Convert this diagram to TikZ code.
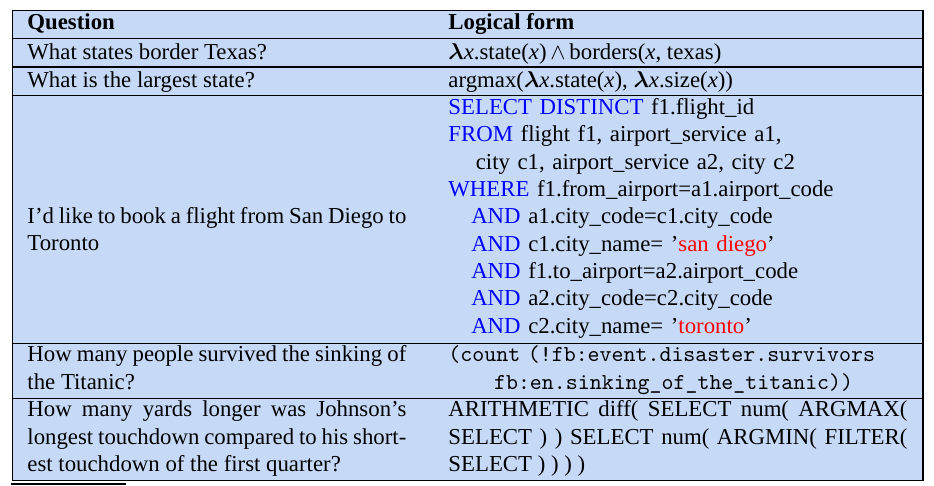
\documentclass[tikz,border=0pt]{standalone}
\usepackage{amsmath}
\usepackage{fontspec}
\setmainfont{Liberation Serif}
\definecolor{cellblue}{RGB}{198,218,248}
\definecolor{kwblue}{RGB}{0,0,255}
\definecolor{strred}{RGB}{255,0,0}
\newcommand{\kw}[1]{\textcolor{kwblue}{#1}}
\newcommand{\strv}[1]{\textcolor{strred}{#1}}
\newcommand{\lam}{$\boldsymbol{\lambda}$}
\begin{document}
\begin{tikzpicture}[x=0.4386pt,y=-0.4386pt,
  cell/.style={anchor=base west,inner sep=0pt,font=\fontsize{10}{12}\selectfont},
  qcell/.style={cell,text width=166.2pt,align=justify},
  lfcell/.style={cell,text width=201.3pt,align=left}]
\useasboundingbox (0,0) rectangle (934,486);
\draw[line width=0.6pt,fill=cellblue] (12.5,10.5) rectangle (923,480.7);
\foreach \y in {38.5,67,95.5,343.3,398.3}
  \draw[line width=0.6pt] (12.5,\y) -- (923,\y);
\draw[line width=1pt] (11,484.3) -- (126,484.3);
% header row
\node[cell] (qhead) at (27,30) {\textbf{Question}};
\node[cell] (lfhead) at (448,30) {\textbf{Logical form}};
% geoquery
\node[cell] (q1) at (27,59.3) {What states border Texas?};
\node[cell] (lf1) at (448,59.3) {\lam\textit{x}.state(\textit{x})$\,\wedge\,$borders(\textit{x}, texas)};
\node[cell] (q2) at (27,87.3) {What is the largest state?};
\node[cell] (lf2) at (448,87.3) {argmax(\lam\textit{x}.state(\textit{x}), \lam\textit{x}.size(\textit{x}))};
% atis
\node[qcell] (q3) at (27,223.3) {I'd like to book a flight from San Diego to\linebreak Toronto};
\node[lfcell] (lf3) at (448,114.3) {\kw{SELECT DISTINCT} f1.flight\_id\\
  \kw{FROM} flight f1, airport\_service a1,\\
  \hspace*{12pt}city c1, airport\_service a2, city c2\\
  \kw{WHERE} f1.from\_airport=a1.airport\_code\\
  \hspace*{10pt}\kw{AND} a1.city\_code=c1.city\_code\\
  \hspace*{10pt}\kw{AND} c1.city\_name= '\strv{san diego}'\\
  \hspace*{10pt}\kw{AND} f1.to\_airport=a2.airport\_code\\
  \hspace*{10pt}\kw{AND} a2.city\_code=c2.city\_code\\
  \hspace*{10pt}\kw{AND} c2.city\_name= '\strv{toronto}'};
% freebase
\node[qcell] (q4) at (27,361.7) {How many people survived the sinking of\linebreak the Titanic?};
\node[lfcell] (lf4) at (448,361.7) {\ttfamily (count (!fb:event.disaster.survivors\\
  \hspace*{20pt}fb:en.sinking\_of\_the\_titanic))};
% drop
\node[qcell] (q5) at (27,416.7) {How many yards longer was Johnson's\linebreak longest touchdown compared to his short-\linebreak est touchdown of the first quarter?};
\node[lfcell,align=justify] (lf5) at (448,416.7) {ARITHMETIC diff( SELECT num( ARGMAX(\linebreak SELECT ) ) SELECT num( ARGMIN( FILTER(\linebreak SELECT ) ) ) )};
\end{tikzpicture}
\end{document}
